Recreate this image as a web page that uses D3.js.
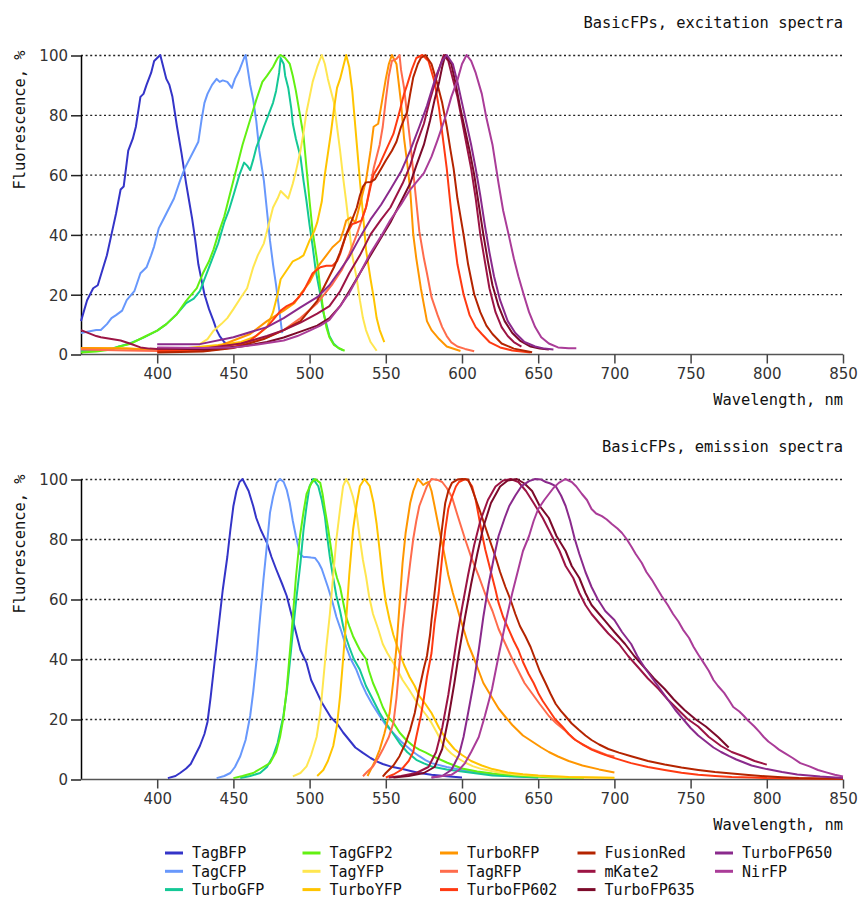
<!DOCTYPE html>
<html>
<head>
<meta charset="utf-8">
<script src="https://cdn.jsdelivr.net/npm/d3@7"></script>
<style>
html,body{margin:0;padding:0;background:#fff;}
svg{display:block;}
</style>
</head>
<body>
<svg id="chart" width="864" height="899"></svg>
<script>
// ---------------- DATA ----------------
const wavelengthTicks = [400, 450, 500, 550, 600, 650, 700, 750, 800, 850];
const fluorTicks = [0, 20, 40, 60, 80, 100];
const proteins = ["TagBFP","TagCFP","TurboGFP","TagGFP2","TagYFP","TurboYFP","TurboRFP","TagRFP","TurboFP602","FusionRed","mKate2","TurboFP635","TurboFP650","NirFP"];
const colors = ["#3434c8","#6898fc","#14c896","#62f012","#ffe650","#ffc400","#ff9600","#ff6c4c","#ff3a12","#b42400","#9c1444","#7c0a2a","#8a2a8c","#aa3c98"];
const panelTitles = ["BasicFPs, excitation spectra", "BasicFPs, emission spectra"];

// excitation spectra: [wavelength nm, fluorescence %]
const ex_TagBFP = [[350,11],[354,18],[358,22],[361,23],[364,28],[367,33],[370,40],[373,47],[376,55],[378,56],[381,68],[384,72],[386,76],[389,86],[391,87],[393,90],[396,94],[398,98],[400,99],[402,100],[404,96],[406,92],[408,90],[410,86],[413,76],[416,67],[419,57],[421,51],[423,45],[425,38],[427,30],[429,25],[431,20],[434,15],[437,11],[439,8],[441,6],[444,4],[447,3],[450,2.5]];
const ex_TagCFP = [[350,7],[355,7.5],[360,8],[363,8],[367,10],[370,12],[373,13],[377,14.5],[380,18],[385,21],[389,27],[393,29],[396,33],[398,36],[401,42],[404,45],[407,48],[411,52],[415,58],[418,62],[420,64],[424,68],[427,71],[429,78],[431,84],[433,87],[436,90],[439,92],[441,91],[443,91.5],[446,91],[449,89],[451,92],[454,95],[457,99],[458,100],[461,90],[463,85],[465,78],[467,68],[470,58],[472,48],[474,38],[476,30],[478,23],[480,15],[482,7]];
const ex_TurboGFP = [[350,1],[360,1.2],[370,1.8],[375,2.5],[382,3.5],[391,5.5],[400,7.8],[406,10],[413,13.4],[419,17],[424,18.5],[428,21],[431,25],[434,29],[437,33],[440,37],[444,44],[447,48],[450,53],[454,60],[457,64],[459,63],[461,61.5],[463,65],[465,69],[468,73],[470,76],[473,80],[476,84],[478,88],[480,94],[481,99],[483,97],[484,93],[486,89],[488,82],[489,77],[491,72],[494,66],[496,58],[498,51],[500,43],[502,36],[504,28],[507,20],[509,14],[511,10],[513,6],[516,3.3],[519,2],[522,1.2]];
const ex_TagGFP2 = [[350,0.5],[360,0.8],[370,1.5],[375,2.5],[382,3.3],[391,5.6],[400,7.8],[406,10],[413,13.4],[419,17.8],[426,22],[430,27],[434,31],[437,35],[440,40],[444,46],[447,52],[450,58],[453,64],[456,70],[459,75],[462,80],[465,85],[469,91],[472,93],[476,96],[479,99],[481,100],[484,99],[487,97],[489,93],[491,88],[493,82],[496,73],[498,62],[500,51],[502,41],[505,31],[507,22],[509,14.5],[511,9],[513,5.6],[516,3],[519,2],[523,1.1]];
const ex_TagYFP = [[428,3.3],[433,5],[437,7.8],[442,10],[446,12],[450,15],[455,19],[459,22],[463,29],[466,33],[470,37],[473,43],[476,49],[479,52],[481,54.5],[484,53],[486,52],[489,57],[491,61],[494,68],[496,74],[498,81],[500,86],[502,91],[505,96],[508,100],[510,97],[512,92],[514,88],[516,84],[518,76],[520,68],[522,59],[524,51],[526,42],[528,33],[531,25],[533,18],[535,12],[537,8],[540,4],[544,1.1]];
const ex_TurboYFP = [[350,2],[380,1.8],[400,1.5],[420,2],[440,3],[455,4],[465,6],[472,9],[476,14],[479,20],[481,25],[485,28],[489,31],[493,32],[496,33],[500,38],[503,41],[505,44],[508,51],[510,60],[512,67],[514,74],[516,82],[518,89],[520,92],[522,96],[524,100],[526,96],[528,88],[530,76],[531,70],[533,58],[535,47],[537,35],[540,25],[542,19],[544,12],[546,8],[549,4]];
const ex_TurboRFP = [[350,2],[380,1.8],[400,1.2],[420,1.5],[440,2.5],[450,4.5],[461,6.7],[472,11],[483,14.5],[490,17],[494,20],[500,24],[505,29],[511,33],[515,35.7],[520,38],[522,41],[524,44.6],[527,45.7],[530,44],[533,50],[537,58],[540,68],[542,76],[545,77],[548,86],[550,92],[552,97],[554,100],[557,97],[560,84],[562,72],[564,64],[566,55],[568,40],[570,32],[573,22],[577,11],[580,8],[585,5],[590,2.5],[599,1]];
const ex_TagRFP = [[350,1.5],[380,1.2],[400,1],[420,1.3],[440,2],[455,3.5],[472,5.6],[483,8],[494,12],[505,17],[515,23.4],[521,28],[526,33.4],[531,40],[537,49],[540,57],[542,62],[546,70],[548,76],[550,85],[552,93],[554,98],[557,98.7],[559,100],[560,95],[562,89],[564,80],[566,71],[569,56],[572,41],[575,32],[577,27],[580,19],[584,13],[587,9],[590,6],[593,3.9],[597,2.5],[602,1.7],[608,0.9]];
const ex_TurboFP602 = [[400,1],[430,1],[450,2.2],[461,4.5],[472,9],[477,12],[481,14.5],[485,16],[489,17],[493,19],[496,21],[500,25],[502,27],[507,29],[511,29.5],[515,29.5],[518,31],[520,33.4],[524,40],[528,43.5],[531,44],[534,44.6],[537,49],[540,56],[542,60],[546,63.5],[550,68],[555,73.6],[559,81],[562,87],[564,90],[567,95],[570,99],[574,100],[578,98],[582,91],[585,82],[588,70],[590,62],[592,52],[594.5,40],[597,30],[601,20],[605,13],[609,9],[613,6.7],[618,4],[625,2.2],[633,1.2],[645,0.5]];
const ex_FusionRed = [[400,0.5],[430,0.8],[450,2],[470,5],[483,8],[494,11],[505,17.8],[510,23],[516,29],[520,34],[524,40],[528,45],[531,49],[533,53],[535,56],[537,57.4],[540,57.5],[543,58.5],[547,62],[550,64.7],[554,68],[557,71],[560,76],[564,81],[566,87],[568,92.5],[571,97],[573,99],[576,100],[580,97],[584,90],[587,84],[590,76],[592.5,68],[594.5,62],[597,52],[601,40],[604,30],[608,20],[612,14],[616,9.5],[620,6.7],[626,3.5],[634,1.8],[646,0.6]];
const ex_mKate2 = [[350,8],[355,7],[360,6],[363,5.6],[370,5],[376,4.5],[382,3.5],[389,2.2],[395,1.8],[400,1.7],[430,1.8],[455,3.5],[472,6],[483,8],[494,10.5],[505,13.5],[513,16],[520,21],[526,27],[533,33],[540,40],[547,45],[553,49],[561,57],[566,63],[570,70],[575,77],[579,85],[583,92],[586,97],[588,100],[591,98],[594,92],[597,86],[600,78],[603,70],[606,62],[609,52],[612,40],[615,31],[618,22],[622,14],[626,9],[630,6],[634,4],[639,2.5]];
const ex_TurboFP635 = [[400,2],[430,1.5],[455,2.5],[472,4],[483,5.5],[494,7.5],[505,9.5],[513,12],[520,16],[526,21],[533,27],[540,33],[547,39],[553,44],[561,52],[566,57],[570,63],[575,70],[579,78],[582,85],[585,91],[587,96],[589,100],[593,97],[596,90],[599,82],[602,75],[605,68],[608,60],[611,50],[614,40],[617,31],[620,23],[624,16],[628,11],[633,7],[638,4.5],[645,2.5],[651,1.8],[657,1.5]];
const ex_TurboFP650 = [[400,3.3],[428,3.3],[450,5.6],[472,9],[483,12],[494,15.6],[505,19],[513,23],[520,28],[526,32.5],[533,39],[540,45],[547,50],[553,55],[560,61],[566,68],[572,76],[577,83],[580,88],[583,93],[587,98],[590,100],[594,97],[597,91],[600,84],[603,77],[606,70],[609,62],[612,53],[615,43],[618,34],[621,26],[625,18],[630,11],[635,7],[641,4],[648,2.5],[654,1.8],[660,1.5]];
const ex_NirFP = [[400,2.2],[430,2],[450,2.2],[466,3.2],[483,4.5],[492,6],[500,7.8],[507,9.5],[513,11.4],[520,16],[526,20.4],[533,27],[540,33.8],[547,39.5],[553,44.8],[560,50],[566,55],[575,60.5],[580,66],[584,71.6],[590,80.6],[593,86],[597,91.6],[600,97],[603,100],[606,98],[609,94],[613,87],[616,79],[620,70],[624,57],[627,48],[631,39],[634,32],[637,26],[641,19],[644,14],[648,9],[652,5.6],[657,3.5],[663,2.2],[670,1.9],[675,1.9]];

// emission spectra: [wavelength nm, fluorescence %]
const em_TagBFP = [[407,0.3],[412,1],[415,2],[419,3.5],[422,5],[425,8],[428,11],[431,15],[433,19],[435,27],[437,36],[439,45],[441,54],[443,63],[446,74],[448,83],[450,91],[452,96],[454,99],[456,100],[458,98],[460,96],[463,91],[465,87],[468,83],[472,78.7],[475,74],[478,70],[482,65],[485,61],[489,53],[492,47],[494,43],[498,38.7],[501,33],[505,28.7],[508,25.5],[511,23],[514,20.5],[518,18.5],[522,15.5],[526,13],[530,10.5],[535,8.7],[540,7],[544,5.9],[548,5],[553,4.2],[561,3.3],[567,2.6],[572,2],[580,1.4],[590,0.9],[600,0.5]];
const em_TagCFP = [[439,0.3],[444,1],[448,2],[451,4],[454.5,7.6],[458,13],[461,21],[463,29],[465,38.7],[467,51],[469.7,66.4],[472,78],[474,88.7],[476,94],[478.4,98.7],[480.6,100],[483,99],[485,96.4],[487,92],[489,86],[491,81],[493.7,75],[496,74],[498,74],[501,73.8],[503.5,73.7],[506,72],[508,70],[510,67],[512,64],[515,59],[517.6,54],[521,49],[524,44],[527,40],[530.7,36.4],[534,32],[537,28.7],[541,25],[546,21],[550,18],[555,15.3],[560,12.5],[563.4,11],[568,9],[572,7.6],[576,6.3],[580,5.3],[590,4],[600,3],[610,2.2],[620,1.5],[635,0.9],[650,0.5]];
const em_TurboGFP = [[454.5,0.3],[461,1],[467.5,2],[472,4],[476,7.6],[479,12],[482.8,21],[485,29],[487,38.7],[489,49],[491.5,61],[494,72],[496,83],[498,91],[500,97.6],[502.4,100],[505.7,97.6],[508,93],[510,87.6],[511.5,81],[513.3,74],[515.5,67],[517.6,61],[520,56],[522,51],[524,47],[526,44],[529,40],[533,36.4],[537,31],[541.6,26.4],[546,22],[550,18.7],[555,15],[559,12],[564,9],[570,6.4],[575,5.2],[580,4.2],[590,3.2],[600,2.5],[610,1.8],[620,1.2],[635,0.8],[650,0.5]];
const em_TagGFP2 = [[450,0.3],[456,1],[463,2],[468,3.5],[474,5.3],[478,9],[480.6,14],[483,21],[485,30],[487,42],[489,54],[491,67],[493.7,81],[496,89],[498,95],[501,98.5],[503.5,100],[507,98.7],[508.5,95],[510,90],[512,84],[514,77],[515.5,72],[518,67],[520,64],[522,59],[524,54],[526,51],[528.5,47.6],[531,45],[533,43],[535,41.5],[537,40],[539,36],[541.6,32],[545,28],[548,24],[551,21],[555,18.7],[559,15.5],[563.4,13],[568,11],[572,9.8],[576,8.9],[580,7.8],[590,5.5],[600,3.5],[610,2.5],[620,1.8],[640,1],[660,0.5],[680,0.3]];
const em_TagYFP = [[489,0.9],[494,2],[498,4.2],[501,8],[504.6,14],[507,22],[509,33],[511,44],[513.3,55],[515.5,68],[517.6,80],[520,90],[522,97.6],[524,100],[526,98],[528.5,94],[531,88],[533,80],[535,73],[537,67.6],[539,61],[541.6,55],[545,50],[548,45],[551,42],[555,38.7],[558,36],[561,33],[565,30],[568,27.6],[571,25],[574,23],[577,21],[580,18.7],[584,15],[587,12],[590,10],[593,8.5],[597,7],[602,5.5],[607,4.3],[613,3.3],[624,2.2],[635,1.5],[657,0.8],[680,0.5],[700,0.3]];
const em_TurboYFP = [[505,1],[509,3],[512,6],[515.5,11],[518,18],[520,27.6],[522,40],[524,53],[526,68],[528.5,83],[531,92],[533,97.6],[536,100],[539.5,97.6],[542,92],[544,85],[546,76],[548,66.4],[550,59],[552.5,53],[555,48],[559,42],[562,38],[565.6,34],[569,31],[572,27.6],[576,25],[580,22],[585,17],[590,13],[595,10],[600,8],[606,6],[613,4.5],[620,3.3],[630,2.2],[640,1.6],[650,1.2],[670,0.7],[700,0.4]];
const em_TurboRFP = [[538,1],[540,3],[543,6],[546,9.8],[549,15],[552.5,22],[555,33],[557,44],[559,58],[561,72],[563,82],[566,92],[568,96],[571,100],[573,99],[574.5,98],[576,98.5],[578,99],[580,96],[582,91],[584.7,84],[588,76],[591,68],[594,62],[598,55],[601,50],[604,45],[608,40],[611,36],[614,32],[617.5,29],[621,26],[624,23.5],[628,21],[633,18],[637,16],[640,14.5],[646,12.5],[652,10.5],[657,9],[663,7.5],[670,6],[679,4.5],[690,3.2],[700,2.2]];
const em_TagRFP = [[535,0.9],[538,2.5],[541.6,4.2],[545,7],[548,9.8],[552,14],[555,18.7],[557,27],[559,38.7],[561,50],[563.4,61],[566,72],[568,80],[570,86],[572,91],[575,95],[577,97.6],[580,100],[584,99.7],[587,99],[590,97],[593.4,94],[597,88],[602,80],[606,74],[611,67.6],[615,62],[620,56],[624,50],[628.5,45],[633,40],[637,36],[641,32],[646,28.5],[651,25],[657,21],[662,18.5],[668,16],[673,13.5],[679,11.5],[685,10],[690,9],[695,8],[700,7.5]];
const em_TurboFP602 = [[550,0.5],[555,1.5],[560,3],[565,6],[568,9],[570,14],[573,21],[575,27],[577,34],[580,42],[582,52],[584.7,62],[587,74],[589,83],[591,90],[593.4,94],[596,97.5],[598,99],[602,100],[604,99.5],[606.6,97.6],[609,93],[611,87.6],[613,82],[615.3,76.4],[617.5,72],[619.7,67.6],[622,63],[624,58.7],[627,54],[630.7,49.8],[634,46],[637,43],[640,39],[643.7,35],[647,32],[650,28.7],[653,26],[657,23],[661,20],[665.6,17.6],[670,15],[674.4,13],[680,11.3],[685,9.8],[691,8.6],[698,7.3],[705,6.2],[711,5.3],[722,4],[733,3],[744,2.1],[755,1.4],[766,1],[777,0.7],[790,0.5],[800,0.3],[820,0.2],[850,0.1]];
const em_FusionRed = [[548,0.8],[550,2],[555,4.5],[559,7.6],[563,12],[566,16.4],[569,22],[572,30],[575,37],[577,41],[579,48],[580,53],[582,62],[584.7,74],[587,84],[589,92],[591,96],[593.4,98.7],[597,99.8],[600,100],[604,99.8],[606,97.5],[608.5,94],[612,89],[615.3,84],[618.6,79],[622,74],[625,69],[628.5,64],[632,59.5],[635,55],[638,51],[641.6,47.6],[645,44],[648,40],[651,36],[654.8,32],[658,28.5],[661.5,25],[665,22.6],[667.8,21],[672,18.5],[676.6,16.4],[681,14.5],[685,13],[690,11.5],[696,10],[703,8.8],[711,7.6],[722,6],[733,4.8],[744,3.8],[755,3],[766,2.3],[777,1.8],[788,1.3],[799,0.9],[810,0.6],[821,0.3],[835,0.2],[850,0.1]];
const em_mKate2 = [[552,0.5],[560,1],[570,2],[578,4],[583,9],[587,17],[591,28],[594,38],[597,48],[600,57],[604,68],[608,78],[612,86],[617,93],[622,97.5],[627,99.5],[632,100],[637,99],[642,96],[647,92],[653,87],[658,82],[664,76],[668,71],[673,67],[677,62],[681,58],[685,55],[690,52],[696,48.5],[703,45],[709,41],[716,37],[722,33.5],[729,30],[735,26.5],[742,23],[748,20],[755,17.5],[762,14],[770,11],[777,9],[785,7.5],[792,6],[800,4.8]];
const em_TurboFP635 = [[555,0.5],[565,1],[575,2],[582,4],[587,10],[591,20],[595,32],[598,42],[602,54],[606,65],[610,75],[614,84],[619,92],[625,97.5],[630,99.5],[636,100],[641,98.5],[646,96],[651,91],[657,87],[662,81],[668,76],[672,71],[677,67],[681,62],[685,58],[690,55],[694,52.6],[700,49],[707,45],[713,41],[720,37],[726,33.5],[733,30],[739,26.5],[746,23],[753,20],[760,17.5],[768,14],[775,10.5]];
const em_TurboFP650 = [[580,0.5],[587,1],[593,3],[598,8],[601,14],[604,22],[608,33],[611,43],[614,54],[617.5,65],[621,74],[624,81],[628,87],[631,91],[635,94.5],[639,97.6],[644,99.3],[648,100],[652,99.8],[655,99],[658,98.5],[661.5,97.6],[665,94.5],[668,91],[671,86],[674,80],[677,75],[681,69],[685,64],[689,60],[694,56],[700,53],[705,49],[711,45],[715,41],[720,37],[725,33.5],[730,30],[735,26.5],[740,23],[745,20],[750,17],[755,14.5],[760,12.5],[765,10.5],[770,9],[775,7.7],[780,6.5],[785,5.5],[790,4.5],[800,3.3],[810,2.3],[820,1.5],[835,0.8],[850,0.3]];
const em_NirFP = [[580,0.5],[593,1.4],[598,3],[602,5.3],[606,9],[611,14],[615,21],[619.7,30],[624,41],[628.5,52],[633,62],[637,70],[640,76],[644,81],[647,86],[650,90],[654,93],[657,95],[660,97],[663.5,98.7],[667.8,100],[672,99],[675,97.5],[678.7,95],[682,93],[685,90],[688,88.5],[691.8,87.6],[695,86.5],[698.3,85],[702,83.5],[705,82],[708,80],[711,77.6],[714,75],[718,72],[721,69],[724.6,66.4],[728,63.5],[731,61],[735,58],[738.5,55],[742,52.5],[745,49.8],[749,47],[752,44],[755,41.5],[758.6,38.7],[762,36],[765,33],[768,31],[772,28.7],[775,26.4],[778,24],[782,22.5],[785,21],[788,19.3],[791.7,17.6],[795,15.8],[798,14],[801,12.5],[805,11],[808,9.8],[811.5,8.7],[817,7],[822,5.3],[828,4.2],[833.6,3],[839,2.2],[844.6,1.4],[850,0.8]];

const excitation = [ex_TagBFP, ex_TagCFP, ex_TurboGFP, ex_TagGFP2, ex_TagYFP, ex_TurboYFP, ex_TurboRFP, ex_TagRFP, ex_TurboFP602, ex_FusionRed, ex_mKate2, ex_TurboFP635, ex_TurboFP650, ex_NirFP];
const emission = [em_TagBFP, em_TagCFP, em_TurboGFP, em_TagGFP2, em_TagYFP, em_TurboYFP, em_TurboRFP, em_TagRFP, em_TurboFP602, em_FusionRed, em_mKate2, em_TurboFP635, em_TurboFP650, em_NirFP];

// ---------------- DRAW ----------------
const svg = d3.select("#chart");
const MONO = "'DejaVu Sans Mono', monospace";
const SANS = "'DejaVu Sans', sans-serif";

const x = d3.scaleLinear().domain([350, 850]).range([81, 843]);

function panel(series, top, bottom, title) {
  const y = d3.scaleLinear().domain([0, 100]).range([bottom, top]);
  const g = svg.append("g");

  // dotted grid
  g.selectAll("line.grid").data(fluorTicks.filter(d => d > 0)).enter()
    .append("line")
    .attr("x1", x(350)).attr("x2", x(850))
    .attr("y1", d => y(d) + 0.5).attr("y2", d => y(d) + 0.5)
    .attr("stroke", "#222").attr("stroke-width", 1.3)
    .attr("stroke-dasharray", "2,2.6");

  // y axis
  const yAxis = d3.axisLeft(y).tickValues(fluorTicks).tickSize(10).tickPadding(3);
  const ya = g.append("g").attr("transform", `translate(${x(350)},0.5)`).call(yAxis);
  ya.select(".domain").attr("stroke", "#000").attr("stroke-width", 1.5).attr("d", `M0.5,${y(100)}V${y(0)}`);
  ya.selectAll(".tick line").attr("stroke", "#222").attr("stroke-width", 1.5);
  ya.selectAll(".tick text").attr("font-family", SANS).attr("font-size", 15).attr("fill", "#333").attr("dy", "0.36em");

  // x axis
  const xAxis = d3.axisBottom(x).tickValues(wavelengthTicks).tickSize(9).tickPadding(5);
  const xa = g.append("g").attr("transform", `translate(0,${y(0) + 0.5})`).call(xAxis);
  xa.select(".domain").attr("stroke", "#555").attr("stroke-width", 1.5).attr("d", `M${x(350)},0H${x(850)}`);
  xa.selectAll(".tick line").attr("stroke", "#444").attr("stroke-width", 1.5);
  xa.selectAll(".tick text").attr("font-family", SANS).attr("font-size", 15).attr("fill", "#333");

  // curves
  const line = d3.line().x(d => x(d[0])).y(d => y(d[1]));
  g.selectAll("path.curve").data(series).enter()
    .append("path")
    .attr("class", "curve")
    .attr("d", d => line(d))
    .attr("fill", "none")
    .attr("stroke", (d, i) => colors[i])
    .attr("stroke-width", 2)
    .attr("stroke-linejoin", "round");

  // titles / labels
  g.append("text").attr("x", x(850)).attr("y", top - 27)
    .attr("text-anchor", "end").attr("font-family", MONO).attr("font-size", 15.4).attr("fill", "#111")
    .text(title);
  g.append("text").attr("x", x(850)).attr("y", bottom + 51)
    .attr("text-anchor", "end").attr("font-family", MONO).attr("font-size", 15.4).attr("fill", "#111")
    .text("Wavelength, nm");
  g.append("text")
    .attr("transform", `translate(25,${top + 65}) rotate(-90)`)
    .attr("text-anchor", "middle").attr("font-family", MONO).attr("font-size", 15.4).attr("fill", "#111")
    .text("Fluorescence, %");
}

panel(excitation, 55, 354, panelTitles[0]);
panel(emission, 479, 779, panelTitles[1]);

// legend
const legendRows = 3;
const lg = svg.append("g");
proteins.forEach((name, i) => {
  const col = Math.floor(i / legendRows), row = i % legendRows;
  const lx = 165 + col * 137.5, ly = 853 + row * 18.3;
  lg.append("line").attr("x1", lx).attr("x2", lx + 18).attr("y1", ly).attr("y2", ly)
    .attr("stroke", colors[i]).attr("stroke-width", 3);
  lg.append("text").attr("x", lx + 27).attr("y", ly + 5.3)
    .attr("font-family", MONO).attr("font-size", 15).attr("fill", "#111")
    .text(name);
});
</script>
</body>
</html>
